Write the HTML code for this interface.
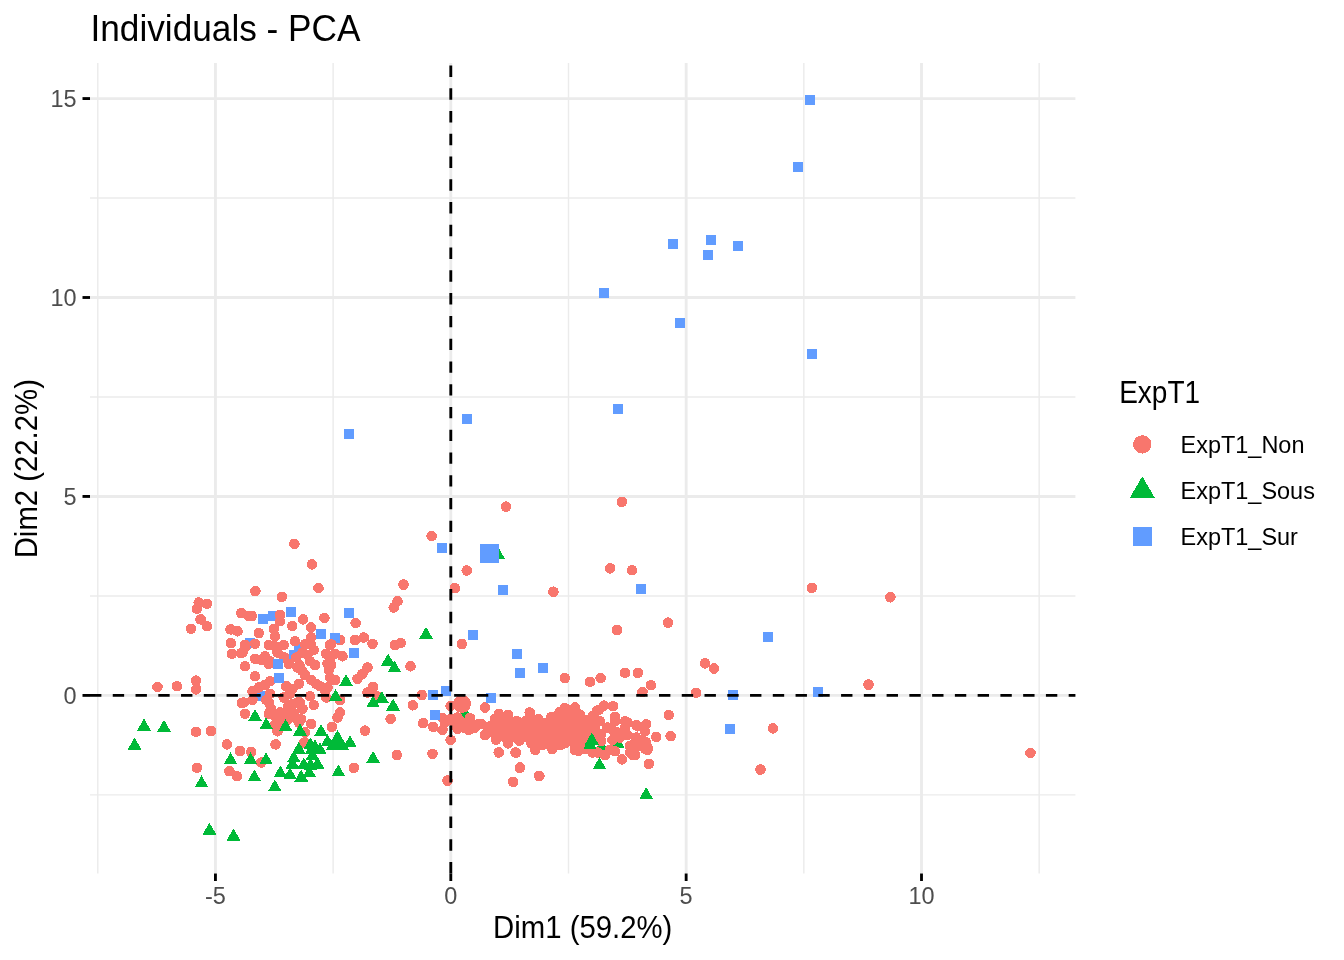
<!DOCTYPE html>
<html><head><meta charset="utf-8"><style>
html,body{margin:0;padding:0;background:#fff;}
svg{display:block;font-family:"Liberation Sans",sans-serif;will-change:transform;}
</style></head><body>
<svg width="1344" height="960" viewBox="0 0 1344 960">
<rect width="1344" height="960" fill="#fff"/>
<g stroke="#EBEBEB" stroke-width="1.42">
<line x1="97.78" y1="63" x2="97.78" y2="873.5"/>
<line x1="333.12" y1="63" x2="333.12" y2="873.5"/>
<line x1="568.48" y1="63" x2="568.48" y2="873.5"/>
<line x1="803.83" y1="63" x2="803.83" y2="873.5"/>
<line x1="1039.17" y1="63" x2="1039.17" y2="873.5"/>
<line x1="90" y1="794.88" x2="1075.4" y2="794.88"/>
<line x1="90" y1="595.92" x2="1075.4" y2="595.92"/>
<line x1="90" y1="396.97" x2="1075.4" y2="396.97"/>
<line x1="90" y1="198.02" x2="1075.4" y2="198.02"/>
</g><g stroke="#EBEBEB" stroke-width="2.85">
<line x1="215.45" y1="63" x2="215.45" y2="873.5"/>
<line x1="450.80" y1="63" x2="450.80" y2="873.5"/>
<line x1="686.15" y1="63" x2="686.15" y2="873.5"/>
<line x1="921.50" y1="63" x2="921.50" y2="873.5"/>
<line x1="90" y1="695.40" x2="1075.4" y2="695.40"/>
<line x1="90" y1="496.45" x2="1075.4" y2="496.45"/>
<line x1="90" y1="297.50" x2="1075.4" y2="297.50"/>
<line x1="90" y1="98.55" x2="1075.4" y2="98.55"/>
</g>
<g shape-rendering="crispEdges">
<rect x="804.7" y="94.7" width="10.0" height="10.0" fill="#619CFF"/>
<rect x="793.4" y="162.2" width="10.0" height="10.0" fill="#619CFF"/>
<rect x="667.5" y="238.8" width="10.0" height="10.0" fill="#619CFF"/>
<rect x="705.9" y="234.7" width="10.0" height="10.0" fill="#619CFF"/>
<rect x="703.4" y="249.7" width="10.0" height="10.0" fill="#619CFF"/>
<rect x="732.5" y="241.2" width="10.0" height="10.0" fill="#619CFF"/>
<rect x="598.8" y="288.1" width="10.0" height="10.0" fill="#619CFF"/>
<rect x="674.7" y="317.5" width="10.0" height="10.0" fill="#619CFF"/>
<rect x="806.9" y="349.0" width="10.0" height="10.0" fill="#619CFF"/>
<rect x="612.9" y="403.9" width="10.0" height="10.0" fill="#619CFF"/>
<rect x="343.7" y="428.7" width="10.0" height="10.0" fill="#619CFF"/>
<rect x="461.6" y="414.4" width="10.0" height="10.0" fill="#619CFF"/>
<circle cx="506.0" cy="506.7" r="5.3" fill="#F8766D"/>
<circle cx="621.8" cy="501.8" r="5.3" fill="#F8766D"/>
<circle cx="811.9" cy="587.9" r="5.3" fill="#F8766D"/>
<circle cx="890.4" cy="597.3" r="5.3" fill="#F8766D"/>
<rect x="763.0" y="632.4" width="10.0" height="10.0" fill="#619CFF"/>
<circle cx="705.0" cy="663.4" r="5.3" fill="#F8766D"/>
<circle cx="714.0" cy="668.5" r="5.3" fill="#F8766D"/>
<circle cx="868.5" cy="684.6" r="5.3" fill="#F8766D"/>
<rect x="812.5" y="687.1" width="10.0" height="10.0" fill="#619CFF"/>
<rect x="728.0" y="690.3" width="10.0" height="10.0" fill="#619CFF"/>
<circle cx="696.0" cy="692.9" r="5.3" fill="#F8766D"/>
<rect x="725.0" y="723.8" width="10.0" height="10.0" fill="#619CFF"/>
<circle cx="772.9" cy="728.4" r="5.3" fill="#F8766D"/>
<circle cx="760.5" cy="769.6" r="5.3" fill="#F8766D"/>
<circle cx="1030.5" cy="752.9" r="5.3" fill="#F8766D"/>
<circle cx="610.2" cy="568.4" r="5.3" fill="#F8766D"/>
<circle cx="632.0" cy="570.2" r="5.3" fill="#F8766D"/>
<rect x="636.0" y="583.9" width="10.0" height="10.0" fill="#619CFF"/>
<circle cx="553.4" cy="591.7" r="5.3" fill="#F8766D"/>
<circle cx="668.0" cy="622.7" r="5.3" fill="#F8766D"/>
<circle cx="564.8" cy="678.1" r="5.3" fill="#F8766D"/>
<circle cx="590.0" cy="681.9" r="5.3" fill="#F8766D"/>
<circle cx="600.6" cy="678.1" r="5.3" fill="#F8766D"/>
<circle cx="625.0" cy="672.9" r="5.3" fill="#F8766D"/>
<circle cx="637.9" cy="672.9" r="5.3" fill="#F8766D"/>
<circle cx="650.9" cy="685.2" r="5.3" fill="#F8766D"/>
<circle cx="642.5" cy="691.9" r="5.3" fill="#F8766D"/>
<polygon fill="#F8766D" points="495,719.1 498.75,713.9 508.1,714.8 516.6,720.9 529.7,712.5 538.1,719.1 551.25,717.2 559.7,712 565.3,710.2 574.7,708.3 579.4,714.4 592.5,716.25 597.2,710.6 597,735 592.5,751.9 578.4,750.9 564.4,743.4 552.2,749.1 535.3,750 531.6,743.4 519.4,740.6 508.1,743.4 495.9,739.7 485.6,735 481,723.75"/>
<circle cx="495.0" cy="719.1" r="5.3" fill="#F8766D"/>
<circle cx="498.8" cy="713.9" r="5.3" fill="#F8766D"/>
<circle cx="508.1" cy="714.8" r="5.3" fill="#F8766D"/>
<circle cx="516.6" cy="720.9" r="5.3" fill="#F8766D"/>
<circle cx="529.7" cy="712.5" r="5.3" fill="#F8766D"/>
<circle cx="538.1" cy="719.1" r="5.3" fill="#F8766D"/>
<circle cx="551.2" cy="717.2" r="5.3" fill="#F8766D"/>
<circle cx="559.7" cy="712.0" r="5.3" fill="#F8766D"/>
<circle cx="565.3" cy="710.2" r="5.3" fill="#F8766D"/>
<circle cx="574.7" cy="708.3" r="5.3" fill="#F8766D"/>
<circle cx="579.4" cy="714.4" r="5.3" fill="#F8766D"/>
<circle cx="592.5" cy="716.2" r="5.3" fill="#F8766D"/>
<circle cx="597.2" cy="710.6" r="5.3" fill="#F8766D"/>
<circle cx="597.0" cy="735.0" r="5.3" fill="#F8766D"/>
<circle cx="592.5" cy="751.9" r="5.3" fill="#F8766D"/>
<circle cx="578.4" cy="750.9" r="5.3" fill="#F8766D"/>
<circle cx="564.4" cy="743.4" r="5.3" fill="#F8766D"/>
<circle cx="552.2" cy="749.1" r="5.3" fill="#F8766D"/>
<circle cx="535.3" cy="750.0" r="5.3" fill="#F8766D"/>
<circle cx="531.6" cy="743.4" r="5.3" fill="#F8766D"/>
<circle cx="519.4" cy="740.6" r="5.3" fill="#F8766D"/>
<circle cx="508.1" cy="743.4" r="5.3" fill="#F8766D"/>
<circle cx="495.9" cy="739.7" r="5.3" fill="#F8766D"/>
<circle cx="485.6" cy="735.0" r="5.3" fill="#F8766D"/>
<circle cx="481.0" cy="723.8" r="5.3" fill="#F8766D"/>
<circle cx="617.0" cy="630.0" r="5.3" fill="#F8766D"/>
<circle cx="498.8" cy="752.3" r="5.3" fill="#F8766D"/>
<circle cx="516.1" cy="752.6" r="5.3" fill="#F8766D"/>
<circle cx="519.8" cy="767.8" r="5.3" fill="#F8766D"/>
<circle cx="539.0" cy="775.8" r="5.3" fill="#F8766D"/>
<path fill="#00BA38" d="M601.5 738.7L608.4 750.7L594.6 750.7Z"/>
<path fill="#00BA38" d="M617.6 735.8L624.5 747.8L610.7 747.8Z"/>
<circle cx="565.0" cy="708.1" r="5.3" fill="#F8766D"/>
<circle cx="575.0" cy="707.5" r="5.3" fill="#F8766D"/>
<circle cx="580.0" cy="715.0" r="5.3" fill="#F8766D"/>
<circle cx="561.2" cy="726.0" r="5.3" fill="#F8766D"/>
<circle cx="572.5" cy="727.5" r="5.3" fill="#F8766D"/>
<circle cx="565.0" cy="742.5" r="5.3" fill="#F8766D"/>
<circle cx="575.0" cy="750.0" r="5.3" fill="#F8766D"/>
<circle cx="580.0" cy="742.5" r="5.3" fill="#F8766D"/>
<circle cx="592.5" cy="716.2" r="5.3" fill="#F8766D"/>
<circle cx="600.0" cy="721.2" r="5.3" fill="#F8766D"/>
<circle cx="603.8" cy="705.6" r="5.3" fill="#F8766D"/>
<circle cx="613.1" cy="706.2" r="5.3" fill="#F8766D"/>
<circle cx="598.8" cy="710.0" r="5.3" fill="#F8766D"/>
<circle cx="615.0" cy="716.9" r="5.3" fill="#F8766D"/>
<circle cx="625.0" cy="721.2" r="5.3" fill="#F8766D"/>
<circle cx="636.2" cy="725.0" r="5.3" fill="#F8766D"/>
<circle cx="646.2" cy="724.4" r="5.3" fill="#F8766D"/>
<circle cx="591.2" cy="731.2" r="5.3" fill="#F8766D"/>
<circle cx="601.2" cy="733.8" r="5.3" fill="#F8766D"/>
<circle cx="613.8" cy="731.2" r="5.3" fill="#F8766D"/>
<circle cx="626.2" cy="735.0" r="5.3" fill="#F8766D"/>
<circle cx="636.2" cy="737.5" r="5.3" fill="#F8766D"/>
<circle cx="646.2" cy="742.5" r="5.3" fill="#F8766D"/>
<circle cx="656.2" cy="736.9" r="5.3" fill="#F8766D"/>
<circle cx="670.6" cy="736.2" r="5.3" fill="#F8766D"/>
<circle cx="668.8" cy="715.0" r="5.3" fill="#F8766D"/>
<circle cx="592.5" cy="752.5" r="5.3" fill="#F8766D"/>
<circle cx="605.0" cy="755.0" r="5.3" fill="#F8766D"/>
<circle cx="615.0" cy="751.2" r="5.3" fill="#F8766D"/>
<circle cx="621.9" cy="759.4" r="5.3" fill="#F8766D"/>
<circle cx="632.5" cy="755.0" r="5.3" fill="#F8766D"/>
<circle cx="645.0" cy="748.8" r="5.3" fill="#F8766D"/>
<circle cx="630.0" cy="746.0" r="5.3" fill="#F8766D"/>
<circle cx="648.8" cy="763.8" r="5.3" fill="#F8766D"/>
<circle cx="585.0" cy="737.5" r="5.3" fill="#F8766D"/>
<circle cx="572.5" cy="737.5" r="5.3" fill="#F8766D"/>
<circle cx="585.0" cy="723.8" r="5.3" fill="#F8766D"/>
<circle cx="577.5" cy="720.0" r="5.3" fill="#F8766D"/>
<circle cx="561.2" cy="712.5" r="5.3" fill="#F8766D"/>
<circle cx="585.0" cy="748.8" r="5.3" fill="#F8766D"/>
<circle cx="582.5" cy="733.8" r="5.3" fill="#F8766D"/>
<circle cx="595.0" cy="727.5" r="5.3" fill="#F8766D"/>
<circle cx="607.5" cy="727.5" r="5.3" fill="#F8766D"/>
<circle cx="612.5" cy="740.0" r="5.3" fill="#F8766D"/>
<circle cx="620.0" cy="737.5" r="5.3" fill="#F8766D"/>
<circle cx="597.5" cy="752.5" r="5.3" fill="#F8766D"/>
<circle cx="625.0" cy="727.5" r="5.3" fill="#F8766D"/>
<circle cx="645.0" cy="731.2" r="5.3" fill="#F8766D"/>
<circle cx="647.5" cy="747.5" r="5.3" fill="#F8766D"/>
<circle cx="637.5" cy="746.2" r="5.3" fill="#F8766D"/>
<circle cx="560.0" cy="735.0" r="5.3" fill="#F8766D"/>
<circle cx="560.0" cy="745.0" r="5.3" fill="#F8766D"/>
<circle cx="615.0" cy="721.2" r="5.3" fill="#F8766D"/>
<circle cx="627.5" cy="722.5" r="5.3" fill="#F8766D"/>
<circle cx="637.5" cy="726.2" r="5.3" fill="#F8766D"/>
<circle cx="617.5" cy="732.5" r="5.3" fill="#F8766D"/>
<circle cx="627.5" cy="735.0" r="5.3" fill="#F8766D"/>
<circle cx="635.0" cy="742.5" r="5.3" fill="#F8766D"/>
<circle cx="642.5" cy="740.0" r="5.3" fill="#F8766D"/>
<circle cx="647.5" cy="750.0" r="5.3" fill="#F8766D"/>
<circle cx="630.0" cy="752.5" r="5.3" fill="#F8766D"/>
<circle cx="635.0" cy="755.0" r="5.3" fill="#F8766D"/>
<circle cx="610.0" cy="750.0" r="5.3" fill="#F8766D"/>
<circle cx="605.0" cy="755.0" r="5.3" fill="#F8766D"/>
<circle cx="601.2" cy="741.2" r="5.3" fill="#F8766D"/>
<path fill="#00BA38" d="M591.8 732.5L598.7 744.5L584.9 744.5Z"/>
<path fill="#00BA38" d="M590.0 737.3L596.9 749.3L583.1 749.3Z"/>
<path fill="#00BA38" d="M599.4 757.3L606.3 769.3L592.5 769.3Z"/>
<path fill="#00BA38" d="M646.2 787.0L653.1 799.0L639.4 799.0Z"/>
<circle cx="421.9" cy="695.0" r="5.3" fill="#F8766D"/>
<circle cx="450.6" cy="706.0" r="5.3" fill="#F8766D"/>
<circle cx="485.0" cy="707.5" r="5.3" fill="#F8766D"/>
<circle cx="445.0" cy="722.5" r="5.3" fill="#F8766D"/>
<circle cx="455.0" cy="725.0" r="5.3" fill="#F8766D"/>
<circle cx="463.8" cy="727.5" r="5.3" fill="#F8766D"/>
<circle cx="470.0" cy="723.8" r="5.3" fill="#F8766D"/>
<circle cx="457.5" cy="720.0" r="5.3" fill="#F8766D"/>
<circle cx="475.0" cy="727.5" r="5.3" fill="#F8766D"/>
<path fill="#00BA38" d="M465.0 706.4L471.9 718.4L458.1 718.4Z"/>
<circle cx="423.1" cy="723.1" r="5.3" fill="#F8766D"/>
<circle cx="433.1" cy="726.9" r="5.3" fill="#F8766D"/>
<circle cx="442.5" cy="730.0" r="5.3" fill="#F8766D"/>
<circle cx="442.5" cy="718.1" r="5.3" fill="#F8766D"/>
<circle cx="451.2" cy="718.8" r="5.3" fill="#F8766D"/>
<circle cx="457.5" cy="717.5" r="5.3" fill="#F8766D"/>
<circle cx="470.0" cy="718.1" r="5.3" fill="#F8766D"/>
<circle cx="479.4" cy="723.8" r="5.3" fill="#F8766D"/>
<circle cx="468.8" cy="730.0" r="5.3" fill="#F8766D"/>
<circle cx="457.5" cy="728.8" r="5.3" fill="#F8766D"/>
<circle cx="462.5" cy="722.5" r="5.3" fill="#F8766D"/>
<circle cx="450.6" cy="740.0" r="5.3" fill="#F8766D"/>
<circle cx="432.5" cy="753.8" r="5.3" fill="#F8766D"/>
<circle cx="447.5" cy="780.6" r="5.3" fill="#F8766D"/>
<circle cx="485.0" cy="735.0" r="5.3" fill="#F8766D"/>
<circle cx="498.8" cy="752.5" r="5.3" fill="#F8766D"/>
<circle cx="515.6" cy="752.5" r="5.3" fill="#F8766D"/>
<circle cx="520.0" cy="767.5" r="5.3" fill="#F8766D"/>
<circle cx="539.4" cy="776.2" r="5.3" fill="#F8766D"/>
<circle cx="513.1" cy="781.9" r="5.3" fill="#F8766D"/>
<rect x="428.1" y="689.6" width="10.0" height="10.0" fill="#619CFF"/>
<rect x="441.1" y="685.5" width="10.0" height="10.0" fill="#619CFF"/>
<rect x="485.5" y="692.9" width="10.0" height="10.0" fill="#619CFF"/>
<rect x="429.9" y="710.4" width="10.0" height="10.0" fill="#619CFF"/>
<circle cx="466.8" cy="570.5" r="5.3" fill="#F8766D"/>
<rect x="498.1" y="584.5" width="10.0" height="10.0" fill="#619CFF"/>
<circle cx="454.9" cy="588.1" r="5.3" fill="#F8766D"/>
<circle cx="403.5" cy="584.6" r="5.3" fill="#F8766D"/>
<circle cx="397.5" cy="601.2" r="5.3" fill="#F8766D"/>
<circle cx="393.8" cy="607.5" r="5.3" fill="#F8766D"/>
<path fill="#00BA38" d="M426.0 626.7L432.9 638.7L419.1 638.7Z"/>
<rect x="468.1" y="629.5" width="10.0" height="10.0" fill="#619CFF"/>
<circle cx="461.9" cy="644.0" r="5.3" fill="#F8766D"/>
<circle cx="400.7" cy="643.0" r="5.3" fill="#F8766D"/>
<rect x="512.0" y="649.0" width="10.0" height="10.0" fill="#619CFF"/>
<rect x="514.8" y="667.9" width="10.0" height="10.0" fill="#619CFF"/>
<rect x="538.0" y="663.3" width="10.0" height="10.0" fill="#619CFF"/>
<circle cx="410.5" cy="666.2" r="5.3" fill="#F8766D"/>
<path fill="#00BA38" d="M497.9 546.5L504.8 558.5L491.0 558.5Z"/>
<circle cx="198.8" cy="602.5" r="5.3" fill="#F8766D"/>
<circle cx="206.9" cy="603.8" r="5.3" fill="#F8766D"/>
<circle cx="196.9" cy="608.8" r="5.3" fill="#F8766D"/>
<circle cx="200.6" cy="619.4" r="5.3" fill="#F8766D"/>
<circle cx="206.9" cy="626.2" r="5.3" fill="#F8766D"/>
<circle cx="191.0" cy="628.8" r="5.3" fill="#F8766D"/>
<circle cx="241.2" cy="613.1" r="5.3" fill="#F8766D"/>
<circle cx="248.8" cy="616.2" r="5.3" fill="#F8766D"/>
<circle cx="230.6" cy="629.4" r="5.3" fill="#F8766D"/>
<circle cx="237.5" cy="631.2" r="5.3" fill="#F8766D"/>
<circle cx="157.5" cy="686.9" r="5.3" fill="#F8766D"/>
<circle cx="176.9" cy="686.2" r="5.3" fill="#F8766D"/>
<circle cx="196.0" cy="680.6" r="5.3" fill="#F8766D"/>
<circle cx="196.2" cy="689.4" r="5.3" fill="#F8766D"/>
<circle cx="230.9" cy="643.1" r="5.3" fill="#F8766D"/>
<circle cx="231.9" cy="653.8" r="5.3" fill="#F8766D"/>
<circle cx="241.2" cy="653.1" r="5.3" fill="#F8766D"/>
<circle cx="246.2" cy="646.2" r="5.3" fill="#F8766D"/>
<circle cx="245.0" cy="666.2" r="5.3" fill="#F8766D"/>
<circle cx="241.9" cy="703.1" r="5.3" fill="#F8766D"/>
<circle cx="245.0" cy="713.8" r="5.3" fill="#F8766D"/>
<circle cx="196.0" cy="731.9" r="5.3" fill="#F8766D"/>
<circle cx="211.0" cy="731.0" r="5.3" fill="#F8766D"/>
<circle cx="226.9" cy="744.4" r="5.3" fill="#F8766D"/>
<path fill="#00BA38" d="M144.0 718.5L150.9 730.5L137.1 730.5Z"/>
<path fill="#00BA38" d="M164.0 719.8L170.9 731.8L157.1 731.8Z"/>
<path fill="#00BA38" d="M134.6 737.6L141.5 749.6L127.7 749.6Z"/>
<circle cx="196.9" cy="767.8" r="5.3" fill="#F8766D"/>
<path fill="#00BA38" d="M201.5 775.4L208.4 787.4L194.6 787.4Z"/>
<path fill="#00BA38" d="M209.4 822.6L216.3 834.6L202.5 834.6Z"/>
<path fill="#00BA38" d="M233.5 828.5L240.4 840.5L226.6 840.5Z"/>
<circle cx="240.0" cy="751.0" r="5.3" fill="#F8766D"/>
<circle cx="229.4" cy="771.2" r="5.3" fill="#F8766D"/>
<circle cx="236.9" cy="776.2" r="5.3" fill="#F8766D"/>
<path fill="#00BA38" d="M230.6 752.3L237.5 764.3L223.7 764.3Z"/>
<circle cx="261.2" cy="762.5" r="5.3" fill="#F8766D"/>
<circle cx="303.8" cy="743.1" r="5.3" fill="#F8766D"/>
<circle cx="275.6" cy="744.4" r="5.3" fill="#F8766D"/>
<circle cx="251.2" cy="751.9" r="5.3" fill="#F8766D"/>
<circle cx="353.8" cy="767.8" r="5.3" fill="#F8766D"/>
<circle cx="396.9" cy="755.0" r="5.3" fill="#F8766D"/>
<path fill="#00BA38" d="M250.6 752.3L257.5 764.3L243.7 764.3Z"/>
<path fill="#00BA38" d="M266.0 752.3L272.9 764.3L259.1 764.3Z"/>
<path fill="#00BA38" d="M254.4 769.4L261.3 781.4L247.5 781.4Z"/>
<path fill="#00BA38" d="M274.8 779.4L281.6 791.4L267.9 791.4Z"/>
<path fill="#00BA38" d="M280.4 765.4L287.3 777.4L273.5 777.4Z"/>
<path fill="#00BA38" d="M290.0 767.3L296.9 779.3L283.1 779.3Z"/>
<path fill="#00BA38" d="M301.2 769.5L308.1 781.5L294.4 781.5Z"/>
<path fill="#00BA38" d="M309.4 765.4L316.3 777.4L302.5 777.4Z"/>
<path fill="#00BA38" d="M292.5 756.6L299.4 768.6L285.6 768.6Z"/>
<path fill="#00BA38" d="M298.8 741.6L305.6 753.6L291.9 753.6Z"/>
<path fill="#00BA38" d="M293.8 750.4L300.6 762.4L286.9 762.4Z"/>
<path fill="#00BA38" d="M303.8 757.3L310.6 769.3L296.9 769.3Z"/>
<path fill="#00BA38" d="M317.5 756.6L324.4 768.6L310.6 768.6Z"/>
<path fill="#00BA38" d="M312.5 747.9L319.4 759.9L305.6 759.9Z"/>
<path fill="#00BA38" d="M311.9 741.6L318.8 753.6L305.0 753.6Z"/>
<path fill="#00BA38" d="M320.0 742.3L326.9 754.3L313.1 754.3Z"/>
<path fill="#00BA38" d="M327.5 734.1L334.4 746.1L320.6 746.1Z"/>
<path fill="#00BA38" d="M350.0 735.4L356.9 747.4L343.1 747.4Z"/>
<path fill="#00BA38" d="M338.4 764.4L345.3 776.4L331.5 776.4Z"/>
<path fill="#00BA38" d="M373.1 751.0L380.0 763.0L366.2 763.0Z"/>
<circle cx="294.4" cy="543.8" r="5.3" fill="#F8766D"/>
<circle cx="311.9" cy="564.4" r="5.3" fill="#F8766D"/>
<circle cx="318.5" cy="588.1" r="5.3" fill="#F8766D"/>
<circle cx="255.4" cy="591.2" r="5.3" fill="#F8766D"/>
<circle cx="281.9" cy="596.9" r="5.3" fill="#F8766D"/>
<rect x="257.5" y="613.8" width="10.0" height="10.0" fill="#619CFF"/>
<rect x="268.1" y="610.6" width="10.0" height="10.0" fill="#619CFF"/>
<rect x="245.0" y="637.5" width="10.0" height="10.0" fill="#619CFF"/>
<rect x="293.8" y="642.0" width="10.0" height="10.0" fill="#619CFF"/>
<circle cx="251.9" cy="616.0" r="5.3" fill="#F8766D"/>
<circle cx="280.0" cy="615.0" r="5.3" fill="#F8766D"/>
<circle cx="280.0" cy="621.2" r="5.3" fill="#F8766D"/>
<circle cx="303.1" cy="619.4" r="5.3" fill="#F8766D"/>
<circle cx="324.4" cy="617.9" r="5.3" fill="#F8766D"/>
<circle cx="292.2" cy="626.0" r="5.3" fill="#F8766D"/>
<circle cx="311.0" cy="627.5" r="5.3" fill="#F8766D"/>
<circle cx="258.8" cy="633.1" r="5.3" fill="#F8766D"/>
<circle cx="273.8" cy="628.8" r="5.3" fill="#F8766D"/>
<circle cx="275.0" cy="636.2" r="5.3" fill="#F8766D"/>
<circle cx="355.6" cy="623.1" r="5.3" fill="#F8766D"/>
<circle cx="311.2" cy="637.5" r="5.3" fill="#F8766D"/>
<circle cx="340.0" cy="640.0" r="5.3" fill="#F8766D"/>
<circle cx="255.0" cy="643.8" r="5.3" fill="#F8766D"/>
<circle cx="245.0" cy="645.0" r="5.3" fill="#F8766D"/>
<circle cx="268.8" cy="645.0" r="5.3" fill="#F8766D"/>
<circle cx="283.8" cy="645.0" r="5.3" fill="#F8766D"/>
<circle cx="295.0" cy="641.2" r="5.3" fill="#F8766D"/>
<circle cx="311.2" cy="645.0" r="5.3" fill="#F8766D"/>
<circle cx="330.0" cy="645.0" r="5.3" fill="#F8766D"/>
<circle cx="355.0" cy="640.0" r="5.3" fill="#F8766D"/>
<circle cx="363.8" cy="637.5" r="5.3" fill="#F8766D"/>
<circle cx="372.5" cy="643.8" r="5.3" fill="#F8766D"/>
<circle cx="395.0" cy="645.0" r="5.3" fill="#F8766D"/>
<rect x="286.0" y="606.9" width="10.0" height="10.0" fill="#619CFF"/>
<rect x="344.0" y="607.8" width="10.0" height="10.0" fill="#619CFF"/>
<rect x="316.0" y="629.4" width="10.0" height="10.0" fill="#619CFF"/>
<rect x="330.0" y="632.8" width="10.0" height="10.0" fill="#619CFF"/>
<circle cx="284.4" cy="657.5" r="5.3" fill="#F8766D"/>
<circle cx="299.4" cy="665.0" r="5.3" fill="#F8766D"/>
<circle cx="275.0" cy="646.2" r="5.3" fill="#F8766D"/>
<circle cx="305.0" cy="644.4" r="5.3" fill="#F8766D"/>
<circle cx="331.2" cy="644.4" r="5.3" fill="#F8766D"/>
<circle cx="331.2" cy="665.0" r="5.3" fill="#F8766D"/>
<circle cx="288.1" cy="706.2" r="5.3" fill="#F8766D"/>
<circle cx="297.5" cy="702.5" r="5.3" fill="#F8766D"/>
<circle cx="271.2" cy="710.0" r="5.3" fill="#F8766D"/>
<circle cx="275.0" cy="715.6" r="5.3" fill="#F8766D"/>
<circle cx="293.8" cy="713.8" r="5.3" fill="#F8766D"/>
<circle cx="301.2" cy="719.4" r="5.3" fill="#F8766D"/>
<circle cx="412.8" cy="705.3" r="5.3" fill="#F8766D"/>
<rect x="288.8" y="650.0" width="10.0" height="10.0" fill="#619CFF"/>
<rect x="255.0" y="691.2" width="10.0" height="10.0" fill="#619CFF"/>
<circle cx="261.2" cy="660.0" r="5.3" fill="#F8766D"/>
<circle cx="270.0" cy="661.2" r="5.3" fill="#F8766D"/>
<circle cx="296.2" cy="657.5" r="5.3" fill="#F8766D"/>
<circle cx="307.5" cy="655.0" r="5.3" fill="#F8766D"/>
<circle cx="315.0" cy="665.0" r="5.3" fill="#F8766D"/>
<circle cx="335.0" cy="653.8" r="5.3" fill="#F8766D"/>
<circle cx="327.5" cy="663.8" r="5.3" fill="#F8766D"/>
<circle cx="328.8" cy="670.0" r="5.3" fill="#F8766D"/>
<circle cx="330.0" cy="677.5" r="5.3" fill="#F8766D"/>
<circle cx="302.5" cy="671.2" r="5.3" fill="#F8766D"/>
<circle cx="316.2" cy="683.8" r="5.3" fill="#F8766D"/>
<circle cx="325.0" cy="690.0" r="5.3" fill="#F8766D"/>
<circle cx="265.0" cy="685.0" r="5.3" fill="#F8766D"/>
<circle cx="252.5" cy="691.2" r="5.3" fill="#F8766D"/>
<circle cx="292.5" cy="688.8" r="5.3" fill="#F8766D"/>
<circle cx="266.2" cy="700.0" r="5.3" fill="#F8766D"/>
<circle cx="271.2" cy="708.8" r="5.3" fill="#F8766D"/>
<circle cx="268.8" cy="713.8" r="5.3" fill="#F8766D"/>
<circle cx="283.8" cy="697.5" r="5.3" fill="#F8766D"/>
<circle cx="292.5" cy="703.8" r="5.3" fill="#F8766D"/>
<circle cx="290.0" cy="710.0" r="5.3" fill="#F8766D"/>
<circle cx="283.8" cy="715.0" r="5.3" fill="#F8766D"/>
<circle cx="277.5" cy="720.0" r="5.3" fill="#F8766D"/>
<circle cx="295.0" cy="717.5" r="5.3" fill="#F8766D"/>
<circle cx="302.5" cy="708.8" r="5.3" fill="#F8766D"/>
<circle cx="298.8" cy="722.5" r="5.3" fill="#F8766D"/>
<circle cx="275.0" cy="725.0" r="5.3" fill="#F8766D"/>
<circle cx="340.0" cy="700.0" r="5.3" fill="#F8766D"/>
<circle cx="362.5" cy="673.8" r="5.3" fill="#F8766D"/>
<circle cx="242.5" cy="652.5" r="5.3" fill="#F8766D"/>
<circle cx="255.0" cy="658.8" r="5.3" fill="#F8766D"/>
<circle cx="265.0" cy="656.2" r="5.3" fill="#F8766D"/>
<circle cx="277.5" cy="652.5" r="5.3" fill="#F8766D"/>
<circle cx="302.5" cy="652.5" r="5.3" fill="#F8766D"/>
<circle cx="310.0" cy="661.2" r="5.3" fill="#F8766D"/>
<circle cx="326.2" cy="653.8" r="5.3" fill="#F8766D"/>
<circle cx="330.0" cy="660.0" r="5.3" fill="#F8766D"/>
<circle cx="342.5" cy="656.2" r="5.3" fill="#F8766D"/>
<circle cx="313.8" cy="650.0" r="5.3" fill="#F8766D"/>
<circle cx="245.0" cy="666.2" r="5.3" fill="#F8766D"/>
<circle cx="268.8" cy="663.8" r="5.3" fill="#F8766D"/>
<circle cx="288.8" cy="663.8" r="5.3" fill="#F8766D"/>
<circle cx="297.5" cy="667.5" r="5.3" fill="#F8766D"/>
<circle cx="328.8" cy="668.8" r="5.3" fill="#F8766D"/>
<circle cx="255.0" cy="676.2" r="5.3" fill="#F8766D"/>
<circle cx="270.0" cy="681.2" r="5.3" fill="#F8766D"/>
<circle cx="305.0" cy="675.0" r="5.3" fill="#F8766D"/>
<circle cx="311.2" cy="680.0" r="5.3" fill="#F8766D"/>
<circle cx="298.8" cy="683.8" r="5.3" fill="#F8766D"/>
<circle cx="286.2" cy="686.2" r="5.3" fill="#F8766D"/>
<circle cx="320.0" cy="686.2" r="5.3" fill="#F8766D"/>
<circle cx="335.0" cy="680.0" r="5.3" fill="#F8766D"/>
<circle cx="327.5" cy="687.5" r="5.3" fill="#F8766D"/>
<circle cx="258.8" cy="687.5" r="5.3" fill="#F8766D"/>
<circle cx="243.8" cy="702.5" r="5.3" fill="#F8766D"/>
<circle cx="252.5" cy="700.0" r="5.3" fill="#F8766D"/>
<circle cx="270.0" cy="693.8" r="5.3" fill="#F8766D"/>
<circle cx="290.0" cy="693.8" r="5.3" fill="#F8766D"/>
<circle cx="300.0" cy="702.5" r="5.3" fill="#F8766D"/>
<circle cx="313.8" cy="705.0" r="5.3" fill="#F8766D"/>
<circle cx="326.2" cy="697.5" r="5.3" fill="#F8766D"/>
<circle cx="310.0" cy="696.2" r="5.3" fill="#F8766D"/>
<circle cx="268.8" cy="702.5" r="5.3" fill="#F8766D"/>
<circle cx="270.0" cy="711.2" r="5.3" fill="#F8766D"/>
<circle cx="280.0" cy="712.5" r="5.3" fill="#F8766D"/>
<circle cx="292.5" cy="712.5" r="5.3" fill="#F8766D"/>
<circle cx="300.0" cy="720.0" r="5.3" fill="#F8766D"/>
<circle cx="311.2" cy="723.8" r="5.3" fill="#F8766D"/>
<circle cx="277.5" cy="722.5" r="5.3" fill="#F8766D"/>
<circle cx="287.5" cy="720.0" r="5.3" fill="#F8766D"/>
<circle cx="277.5" cy="731.2" r="5.3" fill="#F8766D"/>
<circle cx="305.0" cy="732.5" r="5.3" fill="#F8766D"/>
<circle cx="305.0" cy="742.5" r="5.3" fill="#F8766D"/>
<circle cx="367.5" cy="667.5" r="5.3" fill="#F8766D"/>
<circle cx="357.5" cy="678.8" r="5.3" fill="#F8766D"/>
<circle cx="373.1" cy="686.9" r="5.3" fill="#F8766D"/>
<circle cx="367.5" cy="692.5" r="5.3" fill="#F8766D"/>
<circle cx="376.9" cy="696.2" r="5.3" fill="#F8766D"/>
<circle cx="340.0" cy="712.5" r="5.3" fill="#F8766D"/>
<circle cx="337.5" cy="717.5" r="5.3" fill="#F8766D"/>
<circle cx="331.9" cy="726.9" r="5.3" fill="#F8766D"/>
<circle cx="390.6" cy="718.8" r="5.3" fill="#F8766D"/>
<circle cx="365.0" cy="730.6" r="5.3" fill="#F8766D"/>
<rect x="273.1" y="658.8" width="10.0" height="10.0" fill="#619CFF"/>
<rect x="274.4" y="672.5" width="10.0" height="10.0" fill="#619CFF"/>
<rect x="348.8" y="647.5" width="10.0" height="10.0" fill="#619CFF"/>
<path fill="#00BA38" d="M388.1 653.5L395.0 665.5L381.2 665.5Z"/>
<path fill="#00BA38" d="M394.4 660.4L401.3 672.4L387.5 672.4Z"/>
<path fill="#00BA38" d="M346.0 674.1L352.9 686.1L339.1 686.1Z"/>
<path fill="#00BA38" d="M335.6 689.1L342.5 701.1L328.7 701.1Z"/>
<path fill="#00BA38" d="M373.1 695.4L380.0 707.4L366.2 707.4Z"/>
<path fill="#00BA38" d="M381.9 691.0L388.8 703.0L375.0 703.0Z"/>
<path fill="#00BA38" d="M393.1 698.5L400.0 710.5L386.2 710.5Z"/>
<path fill="#00BA38" d="M255.0 709.1L261.9 721.1L248.1 721.1Z"/>
<path fill="#00BA38" d="M266.2 717.3L273.1 729.3L259.4 729.3Z"/>
<path fill="#00BA38" d="M285.6 719.1L292.5 731.1L278.7 731.1Z"/>
<path fill="#00BA38" d="M300.0 723.5L306.9 735.5L293.1 735.5Z"/>
<path fill="#00BA38" d="M321.0 724.1L327.9 736.1L314.1 736.1Z"/>
<circle cx="431.6" cy="536.1" r="5.3" fill="#F8766D"/>
<rect x="437.0" y="543.4" width="10.0" height="10.0" fill="#619CFF"/>
<path fill="#00BA38" d="M310.3 737.3L317.2 749.3L303.4 749.3Z"/>
<path fill="#00BA38" d="M315.0 739.2L321.9 751.2L308.1 751.2Z"/>
<path fill="#00BA38" d="M310.6 757.5L317.5 769.5L303.7 769.5Z"/>
<circle cx="462" cy="703.9" r="9" fill="#F8766D"/>
<path fill="#00BA38" d="M337.5 730.0L349.3 750.4L325.7 750.4Z"/>
<rect x="480" y="544.1" width="19" height="18.8" fill="#619CFF"/>
</g>
<line x1="90" y1="695.4" x2="1075.4" y2="695.4" stroke="#000" stroke-width="2.85" stroke-dasharray="11.38 11.38"/>
<line x1="450.8" y1="873.5" x2="450.8" y2="63" stroke="#000" stroke-width="2.85" stroke-dasharray="11.38 11.38"/>
<g stroke="#000" stroke-width="2.85">
<line x1="215.45" y1="873.5" x2="215.45" y2="881.0"/>
<line x1="450.80" y1="873.5" x2="450.80" y2="881.0"/>
<line x1="686.15" y1="873.5" x2="686.15" y2="881.0"/>
<line x1="921.50" y1="873.5" x2="921.50" y2="881.0"/>
<line x1="82.5" y1="695.40" x2="90" y2="695.40"/>
<line x1="82.5" y1="496.45" x2="90" y2="496.45"/>
<line x1="82.5" y1="297.50" x2="90" y2="297.50"/>
<line x1="82.5" y1="98.55" x2="90" y2="98.55"/>
</g>
<g fill="#4D4D4D" font-size="23.47" text-anchor="middle">
<text x="215.45" y="904">-5</text>
<text x="450.80" y="904">0</text>
<text x="686.15" y="904">5</text>
<text x="921.50" y="904">10</text>
</g>
<g fill="#4D4D4D" font-size="23.47" text-anchor="end">
<text x="76.5" y="703.80">0</text>
<text x="76.5" y="504.85">5</text>
<text x="76.5" y="305.90">10</text>
<text x="76.5" y="106.95">15</text>
</g>
<text transform="translate(90.5 41.2) scale(1 1.04)" font-size="35.2" fill="#000">Individuals - PCA</text>
<text transform="translate(582.7 937.8) scale(1 1.04)" font-size="29.33" fill="#000" text-anchor="middle">Dim1 (59.2%)</text>
<text transform="translate(37.4 468.7) rotate(-90) scale(1 1.04)" font-size="29.33" fill="#000" text-anchor="middle">Dim2 (22.2%)</text>
<text transform="translate(1119.2 402.8) scale(0.875 1)" font-size="32" fill="#000">ExpT1</text>
<g shape-rendering="crispEdges">
<circle cx="1142.3" cy="444.4" r="9.2" fill="#F8766D"/>
<path fill="#00BA38" d="M1142.3 476.3L1155.0 498.2L1129.6 498.2Z"/>
<rect x="1132.9" y="526.9" width="18.8" height="18.8" fill="#619CFF"/>
</g>
<text x="1180.5" y="452.7" font-size="23.47" fill="#000">ExpT1_Non</text>
<text x="1180.5" y="498.6" font-size="23.47" fill="#000">ExpT1_Sous</text>
<text x="1180.5" y="544.7" font-size="23.47" fill="#000">ExpT1_Sur</text>
</svg></body></html>
